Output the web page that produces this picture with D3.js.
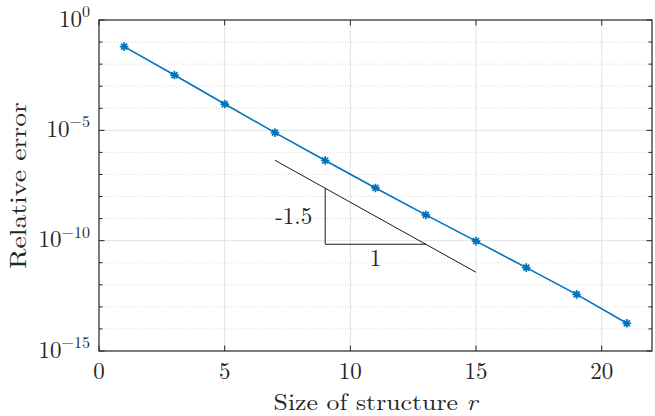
<!DOCTYPE html>
<html><head><meta charset="utf-8">
<script src="https://cdn.jsdelivr.net/npm/d3@7"></script>
<style>
body{margin:0;background:#fff;}
text{font-family:"Latin Modern Roman","CMU Serif","Liberation Serif","DejaVu Serif",serif;fill:#262626;}
</style></head><body>
<svg id="c" width="655" height="416"></svg>
<script>
// Data
const sizes = [1, 3, 5, 7, 9, 11, 13, 15, 17, 19, 21];
const relErr = [6.2e-2, 3.2e-3, 1.55e-4, 7.9e-6, 4.3e-7, 2.45e-8, 1.48e-9, 9.5e-11, 6.0e-12, 3.7e-13, 1.8e-14];
const refX = [7, 15];
const refY = [4.4e-7, 3.7e-12];
const triX = [9, 13];
const slopeLabel = "-1.5";
const runLabel = "1";
const xTicks = [0, 5, 10, 15, 20];
const yMajorExp = [0, -5, -10, -15];
const xLabel = "Size of structure ";
const xLabelVar = "r";
const yLabel = "Relative error";

const W = 655, H = 416;
const m = {l: 99, r: 3, t: 20, b: 65};
const svg = d3.select("#c");
const x = d3.scaleLinear().domain([0, 22]).range([m.l, W - m.r]);
const y = d3.scaleLog().domain([1e-15, 1]).range([H - m.b, m.t]);
const pw = W - m.r - m.l, ph = H - m.b - m.t;

// grid
const minorExp = d3.range(-15, 1).filter(e => e % 5 !== 0);
const g = svg.append("g");
g.selectAll(".mn").data(minorExp).join("line")
  .attr("x1", m.l).attr("x2", W - m.r)
  .attr("y1", e => y(Math.pow(10, e))).attr("y2", e => y(Math.pow(10, e)))
  .attr("stroke", "#d6d6d6").attr("stroke-width", 1).attr("stroke-dasharray", "1,2");
g.selectAll(".mjy").data(yMajorExp.filter(e => e !== 0 && e !== -15)).join("line")
  .attr("x1", m.l).attr("x2", W - m.r)
  .attr("y1", e => y(Math.pow(10, e))).attr("y2", e => y(Math.pow(10, e)))
  .attr("stroke", "#e3e3e3").attr("stroke-width", 1);
g.selectAll(".mjx").data(xTicks.filter(t => t !== 0)).join("line")
  .attr("x1", d => x(d)).attr("x2", d => x(d))
  .attr("y1", m.t).attr("y2", H - m.b)
  .attr("stroke", "#e3e3e3").attr("stroke-width", 1);

// reference line and triangle
const logInterp = (xv) => {
  const t = (xv - refX[0]) / (refX[1] - refX[0]);
  return Math.pow(10, Math.log10(refY[0]) + t * (Math.log10(refY[1]) - Math.log10(refY[0])));
};
svg.append("line")
  .attr("x1", x(refX[0])).attr("y1", y(refY[0]))
  .attr("x2", x(refX[1])).attr("y2", y(refY[1]))
  .attr("stroke", "#000").attr("stroke-width", 0.9);
const tA = [triX[0], logInterp(triX[0])], tB = [triX[0], logInterp(triX[1])], tC = [triX[1], logInterp(triX[1])];
svg.append("path")
  .attr("d", d3.line()([[x(tA[0]), y(tA[1])], [x(tB[0]), y(tB[1])], [x(tC[0]), y(tC[1])]]))
  .attr("fill", "none").attr("stroke", "#000").attr("stroke-width", 0.9);
svg.append("text").attr("x", x(triX[0]) - 13).attr("y", (y(tA[1]) + y(tB[1])) / 2 + 8)
  .attr("text-anchor", "end").attr("font-size", 23).text(slopeLabel);
svg.append("text").attr("x", (x(triX[0]) + x(triX[1])) / 2).attr("y", y(tC[1]) + 21.5)
  .attr("text-anchor", "middle").attr("font-size", 23).text(runLabel);

// data line
const blue = "#0072BD";
const pts = sizes.map((s, i) => [s, relErr[i]]);
svg.append("path")
  .attr("d", d3.line().x(d => x(d[0])).y(d => y(d[1]))(pts))
  .attr("fill", "none").attr("stroke", blue).attr("stroke-width", 1.6);
const r = 4.3;
const star = `M${-r},0L${r},0M0,${-r}L0,${r}M${-r*0.7},${-r*0.7}L${r*0.7},${r*0.7}M${-r*0.7},${r*0.7}L${r*0.7},${-r*0.7}`;
svg.selectAll(".mk").data(pts).join("path")
  .attr("transform", d => `translate(${x(d[0])},${y(d[1])})`)
  .attr("d", star).attr("stroke", blue).attr("stroke-width", 1.7).attr("fill", "none");

// box
svg.append("rect").attr("x", m.l).attr("y", m.t).attr("width", pw).attr("height", ph)
  .attr("fill", "none").attr("stroke", "#262626").attr("stroke-width", 1.2);

// ticks
const tk = svg.append("g").attr("stroke", "#262626").attr("stroke-width", 1);
xTicks.forEach(t => {
  tk.append("line").attr("x1", x(t)).attr("x2", x(t)).attr("y1", H - m.b).attr("y2", H - m.b - 5.5);
  tk.append("line").attr("x1", x(t)).attr("x2", x(t)).attr("y1", m.t).attr("y2", m.t + 5.5);
});
d3.range(-15, 1).forEach(e => {
  const len = (e % 5 === 0) ? 5.5 : 3.5;
  const yy = y(Math.pow(10, e));
  tk.append("line").attr("x1", m.l).attr("x2", m.l + len).attr("y1", yy).attr("y2", yy);
  tk.append("line").attr("x1", W - m.r).attr("x2", W - m.r - len).attr("y1", yy).attr("y2", yy);
});

// tick labels
svg.selectAll(".xl").data(xTicks).join("text")
  .attr("x", d => x(d)).attr("y", H - m.b + 27.5)
  .attr("text-anchor", "middle").attr("font-size", 23).text(d => d);
yMajorExp.forEach(e => {
  const t = svg.append("text").attr("x", m.l - 9).attr("y", y(Math.pow(10, e)) + 6.5)
    .attr("text-anchor", "end").attr("font-size", 23);
  t.append("tspan").text("10");
  t.append("tspan").attr("dy", -9.5).attr("font-size", 16).text(e === 0 ? "0" : "\u2212" + (-e));
});

// axis labels (stretched horizontally to approximate Computer Modern width)
function fitWidth(sel, target, cx, cy, rot) {
  const w = sel.node().getComputedTextLength();
  const s = target / w;
  sel.attr("x", 0).attr("y", 0)
    .attr("transform", `translate(${cx},${cy}) rotate(${rot}) scale(${s},1)`);
}
const xl = svg.append("text").attr("text-anchor", "middle").attr("font-size", 23.5);
xl.append("tspan").text(xLabel);
xl.append("tspan").attr("font-style", "italic").text(xLabelVar);
fitWidth(xl, 204, m.l + pw / 2, 410, 0);
const yl = svg.append("text").attr("text-anchor", "middle").attr("font-size", 23.5).text(yLabel);
fitWidth(yl, 167, 26, m.t + ph / 2, -90);
</script>
</body></html>
